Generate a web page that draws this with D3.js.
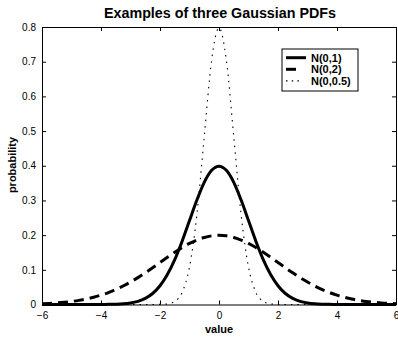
<!DOCTYPE html>
<html>
<head>
<meta charset="utf-8">
<script src="https://cdn.jsdelivr.net/npm/d3@7"></script>
<style>
  body { margin: 0; background: #fff; }
  text { font-family: "Liberation Sans", Arial, Helvetica, sans-serif; }
</style>
</head>
<body>
<svg id="chart" width="398" height="338"></svg>
<script>
// Sample positions along the value axis
const xValues = [-6,-5.75,-5.5,-5.25,-5,-4.75,-4.5,-4.25,-4,-3.75,-3.5,-3.25,-3,-2.75,-2.5,-2.25,-2,-1.75,-1.5,-1.25,-1,-0.75,-0.5,-0.25,
  0,0.25,0.5,0.75,1,1.25,1.5,1.75,2,2.25,2.5,2.75,3,3.25,3.5,3.75,4,4.25,4.5,4.75,5,5.25,5.5,5.75,6];

// Probability densities at each sample
const n01 = [0,0,0,0,0,0,0,0,0.0001,0.0004,0.0009,0.0020,0.0044,0.0091,0.0175,0.0317,0.0540,0.0863,0.1295,0.1826,0.2420,0.3011,0.3521,0.3867,
  0.3989,0.3867,0.3521,0.3011,0.2420,0.1826,0.1295,0.0863,0.0540,0.0317,0.0175,0.0091,0.0044,0.0020,0.0009,0.0004,0.0001,0,0,0,0,0,0,0,0];
const n02 = [0.0022,0.0032,0.0045,0.0064,0.0088,0.0119,0.0159,0.0209,0.0270,0.0344,0.0431,0.0533,0.0648,0.0775,0.0913,0.1059,0.1210,0.1360,0.1506,0.1641,0.1760,0.1859,0.1933,0.1979,
  0.1995,0.1979,0.1933,0.1859,0.1760,0.1641,0.1506,0.1360,0.1210,0.1059,0.0913,0.0775,0.0648,0.0533,0.0431,0.0344,0.0270,0.0209,0.0159,0.0119,0.0088,0.0064,0.0045,0.0032,0.0022];
const n005 = [0,0,0,0,0,0,0,0,0,0,0,0,0,0,0,0,0.0003,0.0017,0.0089,0.0351,0.1080,0.2590,0.4839,0.7041,
  0.7979,0.7041,0.4839,0.2590,0.1080,0.0351,0.0089,0.0017,0.0003,0,0,0,0,0,0,0,0,0,0,0,0,0,0,0,0];

const seriesNames = ["N(0,1)", "N(0,2)", "N(0,0.5)"];
const xTicks = [-6,-4,-2,0,2,4,6];
const yTicks = [0,0.1,0.2,0.3,0.4,0.5,0.6,0.7,0.8];

const svg = d3.select("#chart");
const margin = { left: 42, right: 2, top: 27, bottom: 33.5 };
const W = 398, H = 338;
const x = d3.scaleLinear().domain([-6, 6]).range([margin.left, W - margin.right]);
const y = d3.scaleLinear().domain([0, 0.8]).range([H - margin.bottom, margin.top]);

const styles = [
  { width: 3, dash: null, legendEnd: 306 },
  { width: 3, dash: "10,6", legendEnd: 296 },
  { width: 1.1, dash: "1.5,4.2", legendEnd: 300 }
];
const allSeries = [n01, n02, n005];

const line = d3.line()
  .x((d, i) => x(xValues[i]))
  .y(d => y(d))
  .curve(d3.curveMonotoneX);

// Curves
allSeries.forEach((vals, k) => {
  svg.append("path")
    .attr("d", line(vals))
    .attr("fill", "none")
    .attr("stroke", "#000")
    .attr("stroke-width", styles[k].width)
    .attr("stroke-dasharray", k === 2 ? "1.5,5" : styles[k].dash);
});

// Axes with inward ticks, mirrored on top and right
const tickLen = 4;
const axisBottomG = svg.append("g").attr("transform", `translate(0,${y(0)})`)
  .call(d3.axisBottom(x).tickValues(xTicks).tickSizeInner(-tickLen).tickSizeOuter(0).tickPadding(7)
    .tickFormat(d => d < 0 ? "\u2212" + Math.abs(d) : d));
const axisTopG = svg.append("g").attr("transform", `translate(0,${y(0.8)})`)
  .call(d3.axisTop(x).tickValues(xTicks).tickSizeInner(-tickLen).tickSizeOuter(0).tickFormat(""));
const axisLeftG = svg.append("g").attr("transform", `translate(${x(-6)},0)`)
  .call(d3.axisLeft(y).tickValues(yTicks).tickSizeInner(-tickLen).tickSizeOuter(0).tickPadding(6)
    .tickFormat(d => d === 0 ? "0" : d3.format(".1f")(d)));
const axisRightG = svg.append("g").attr("transform", `translate(${x(6)},0)`)
  .call(d3.axisRight(y).tickValues(yTicks).tickSizeInner(-tickLen).tickSizeOuter(0).tickFormat(""));

[axisBottomG, axisTopG, axisLeftG, axisRightG].forEach(g => {
  g.select(".domain").attr("stroke", "#000").attr("stroke-width", 1);
  g.selectAll(".tick line").attr("stroke", "#000");
  g.selectAll(".tick text").attr("fill", "#000").style("font-size", "10px")
    .style("font-family", "'Liberation Sans', Arial, sans-serif");
});

// Title and axis labels
svg.append("text").attr("x", 220).attr("y", 17.5).attr("text-anchor", "middle")
  .style("font-size", "14.3px").style("font-weight", "bold").text("Examples of three Gaussian PDFs");
svg.append("text").attr("x", 219).attr("y", 333).attr("text-anchor", "middle")
  .style("font-size", "11px").style("font-weight", "bold").text("value");
svg.append("text").attr("transform", "translate(16,165) rotate(-90)").attr("text-anchor", "middle")
  .style("font-size", "11px").style("font-weight", "bold").text("probability");

// Legend
const lg = svg.append("g");
lg.append("rect").attr("x", 282).attr("y", 49).attr("width", 76).attr("height", 42)
  .attr("fill", "#fff").attr("stroke", "#000").attr("stroke-width", 1);
seriesNames.forEach((name, k) => {
  const yy = 57.7 + k * 11.6;
  lg.append("line").attr("x1", 286).attr("x2", styles[k].legendEnd).attr("y1", yy).attr("y2", yy)
    .attr("stroke", "#000").attr("stroke-width", styles[k].width)
    .attr("stroke-dasharray", styles[k].dash);
  lg.append("text").attr("x", 311).attr("y", yy + 4)
    .style("font-size", "11px").style("font-weight", "bold").text(name);
});
</script>
</body>
</html>
